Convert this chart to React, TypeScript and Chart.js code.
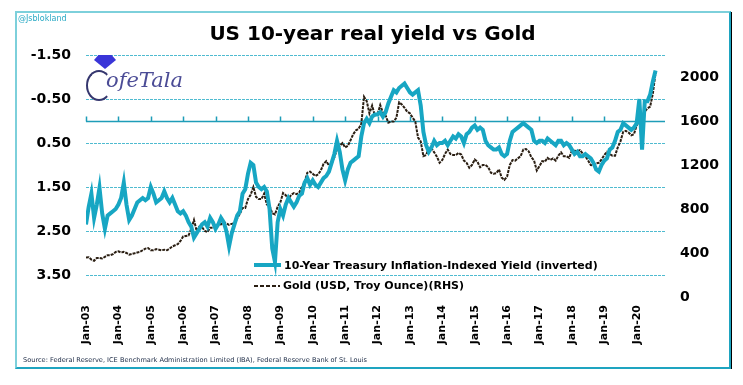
import React, { useEffect, useRef } from 'react';
import { Chart, registerables } from 'chart.js';

Chart.register(...registerables);

// ---------- data ----------
const START_YEAR = 2003; // first monthly observation: Jan 2003
const xTickYears = [2003, 2004, 2005, 2006, 2007, 2008, 2009, 2010, 2011, 2012, 2013, 2014, 2015, 2016, 2017, 2018, 2019, 2020];
const xTickLabels = ['Jan-03', 'Jan-04', 'Jan-05', 'Jan-06', 'Jan-07', 'Jan-08', 'Jan-09', 'Jan-10', 'Jan-11', 'Jan-12', 'Jan-13', 'Jan-14', 'Jan-15', 'Jan-16', 'Jan-17', 'Jan-18', 'Jan-19', 'Jan-20'];
const leftTicks = [-1.5, -0.5, 0.5, 1.5, 2.5, 3.5];
const rightTicks = [0, 400, 800, 1200, 1600, 2000];

// 10-Year TIPS yield (%), monthly, Jan 2003 - Aug 2020 (plotted inverted)
const realYield = [
  2.35, 1.95, 1.65, 2.2, 1.9, 1.52, 2.1, 2.45, 2.15, 2.1, 2.05, 2.0,
  1.9, 1.75, 1.4, 1.9, 2.25, 2.15, 2.0, 1.85, 1.8, 1.75, 1.8, 1.75,
  1.5, 1.65, 1.85, 1.8, 1.75, 1.6, 1.75, 1.85, 1.75, 1.9, 2.05, 2.1,
  2.05, 2.15, 2.3, 2.4, 2.65, 2.55, 2.45, 2.35, 2.3, 2.4, 2.2, 2.3,
  2.45, 2.35, 2.2, 2.3, 2.5, 2.85, 2.55, 2.35, 2.15, 2.05, 1.65, 1.55,
  1.2, 0.95, 1.0, 1.4, 1.5, 1.55, 1.5, 1.6, 2.0, 2.9, 3.2, 2.3,
  2.0, 2.15, 1.9, 1.75, 1.85, 1.95, 1.85, 1.7, 1.65, 1.4, 1.3, 1.45,
  1.35, 1.45, 1.5, 1.4, 1.3, 1.25, 1.15, 0.95, 0.75, 0.45, 0.7, 1.1,
  1.35, 1.1, 0.95, 0.9, 0.85, 0.8, 0.35, 0.05, -0.05, 0.05, -0.1, -0.15,
  -0.15, -0.2, -0.1, -0.2, -0.4, -0.55, -0.7, -0.65, -0.75, -0.8, -0.85, -0.75,
  -0.65, -0.6, -0.65, -0.7, -0.35, 0.25, 0.55, 0.7, 0.6, 0.45, 0.55, 0.5,
  0.5, 0.45, 0.55, 0.45, 0.35, 0.4, 0.3, 0.35, 0.5, 0.3, 0.25, 0.15,
  0.1, 0.2, 0.15, 0.2, 0.45, 0.55, 0.6, 0.65, 0.65, 0.6, 0.75, 0.8,
  0.75, 0.45, 0.25, 0.2, 0.15, 0.1, 0.05, 0.1, 0.15, 0.2, 0.45, 0.5,
  0.45, 0.45, 0.5, 0.4, 0.45, 0.5, 0.55, 0.45, 0.45, 0.55, 0.5, 0.55,
  0.65, 0.75, 0.7, 0.8, 0.8, 0.75, 0.8, 0.85, 0.95, 1.1, 1.15, 1.0,
  0.9, 0.85, 0.65, 0.6, 0.45, 0.25, 0.2, 0.05, 0.1, 0.15, 0.2, 0.15,
  0.05, -0.5, 0.65, -0.45, -0.45, -0.6, -0.9, -1.15,
];

// Gold (USD / troy ounce), monthly, Jan 2003 - Aug 2020
const goldPrice = [
  360, 362, 340, 330, 355, 355, 350, 365, 380, 380, 390, 410,
  415, 405, 410, 400, 385, 392, 398, 405, 410, 425, 440, 445,
  425, 425, 435, 430, 425, 430, 425, 440, 460, 470, 480, 510,
  550, 555, 560, 620, 700, 600, 640, 635, 600, 590, 630, 630,
  635, 665, 660, 680, 670, 655, 665, 670, 715, 755, 810, 810,
  890, 930, 1000, 910, 890, 890, 940, 840, 830, 760, 750, 820,
  860, 945, 925, 890, 930, 945, 935, 950, 1000, 1045, 1130, 1140,
  1120, 1100, 1115, 1150, 1210, 1235, 1195, 1215, 1270, 1345, 1375, 1400,
  1360, 1375, 1425, 1480, 1515, 1530, 1575, 1820, 1780, 1670, 1740, 1650,
  1660, 1745, 1675, 1650, 1585, 1595, 1595, 1630, 1770, 1750, 1720, 1685,
  1670, 1630, 1595, 1450, 1415, 1280, 1290, 1350, 1350, 1315, 1275, 1220,
  1245, 1300, 1340, 1300, 1290, 1290, 1310, 1295, 1240, 1220, 1175, 1200,
  1250, 1230, 1180, 1200, 1200, 1180, 1130, 1120, 1125, 1160, 1085, 1065,
  1095, 1200, 1245, 1240, 1260, 1280, 1340, 1345, 1325, 1270, 1240, 1150,
  1190, 1235, 1230, 1265, 1245, 1260, 1240, 1285, 1315, 1280, 1280, 1265,
  1330, 1330, 1325, 1335, 1305, 1280, 1240, 1200, 1195, 1215, 1220, 1250,
  1290, 1320, 1300, 1285, 1285, 1360, 1415, 1500, 1510, 1495, 1470, 1480,
  1560, 1600, 1590, 1685, 1715, 1730, 1850, 2040,
];

const TEAL = '#17A6C3';
const GOLD_LINE = '#2A1E12';
const GRID = '#4FBBD0';
const FONT = '"DejaVu Sans", Verdana, sans-serif';

const toPoints = (arr: number[]) => arr.map((v, i) => ({ x: START_YEAR + i / 12, y: v }));

// light horizontal gridlines at the left-axis ticks + solid zero axis with year ticks
const gridAndAxisPlugin = {
  id: 'gridAndAxis',
  beforeDatasetsDraw(chart: any) {
    const { ctx, chartArea, scales } = chart;
    ctx.save();
    ctx.strokeStyle = GRID;
    ctx.lineWidth = 1;
    ctx.setLineDash([3, 1]);
    ctx.beginPath();
    for (const v of leftTicks) {
      const gy = Math.round(scales.y.getPixelForValue(v)) + 0.5;
      ctx.moveTo(chartArea.left, gy);
      ctx.lineTo(chartArea.right, gy);
    }
    ctx.stroke();
    ctx.setLineDash([]);
    const y = Math.round(scales.y.getPixelForValue(0)) + 0.5;
    ctx.strokeStyle = '#1E9DB8';
    ctx.lineWidth = 1.5;
    ctx.beginPath();
    ctx.moveTo(chartArea.left, y);
    ctx.lineTo(chartArea.right, y);
    for (const t of xTickYears) {
      const x = Math.round(scales.x.getPixelForValue(t)) + 0.5;
      ctx.moveTo(x, y);
      ctx.lineTo(x, y - 5);
    }
    ctx.stroke();
    ctx.restore();
  },
};

function RealYieldGoldChart() {
  const ref = useRef<HTMLCanvasElement>(null);
  useEffect(() => {
    if (!ref.current) return;
    const chart = new Chart(ref.current, {
      type: 'line',
      data: {
        datasets: [
          {
            label: '10-Year Treasury Inflation-Indexed Yield (inverted)',
            data: toPoints(realYield),
            yAxisID: 'y',
            borderColor: TEAL,
            borderWidth: 4,
            pointRadius: 0,
            tension: 0,
          },
          {
            label: 'Gold (USD, Troy Ounce)(RHS)',
            data: toPoints(goldPrice),
            yAxisID: 'y2',
            borderColor: GOLD_LINE,
            borderWidth: 2,
            borderDash: [3, 1],
            pointRadius: 0,
            tension: 0,
          },
        ],
      },
      options: {
        responsive: false,
        animation: false,
        layout: { padding: { left: 16, right: 0, top: 33, bottom: 0 } },
        plugins: { legend: { display: false }, tooltip: { enabled: false }, title: { display: false } },
        scales: {
          x: {
            type: 'linear',
            min: 2003,
            max: 2020.875,
            position: 'bottom',
            grid: { display: false, drawTicks: false },
            border: { display: false },
            afterBuildTicks: (s: any) => { s.ticks = xTickYears.map((v) => ({ value: v })); },
            afterFit: (s: any) => { s.height = 88; },
            ticks: {
              autoSkip: false,
              minRotation: 90,
              maxRotation: 90,
              padding: 8,
              color: '#000',
              font: { family: FONT, size: 11, weight: 'bold' },
              callback: (v: any) => xTickLabels[xTickYears.indexOf(Math.round(Number(v)))] ?? '',
            },
          },
          y: {
            type: 'linear',
            position: 'left',
            min: -2,
            max: 4,
            reverse: true,
            grid: { display: false, drawTicks: false },
            border: { display: false },
            afterBuildTicks: (s: any) => { s.ticks = leftTicks.map((v) => ({ value: v })); },
            afterFit: (s: any) => { s.width = 70; },
            ticks: {
              padding: 15,
              color: '#000',
              font: { family: FONT, size: 14, weight: 'bold' },
              callback: (v: any) => Number(v).toFixed(2),
            },
          },
          y2: {
            type: 'linear',
            position: 'right',
            min: 0,
            max: 2400,
            grid: { display: false, drawTicks: false },
            border: { display: false },
            afterBuildTicks: (s: any) => { s.ticks = rightTicks.map((v) => ({ value: v })); },
            afterFit: (s: any) => { s.width = 78; },
            ticks: {
              padding: 15,
              color: '#000',
              font: { family: FONT, size: 14, weight: 'bold' },
              callback: (v: any) => String(v),
            },
          },
        },
      },
      plugins: [gridAndAxisPlugin],
    } as any);
    return () => chart.destroy();
  }, []);
  return <canvas ref={ref} width={743} height={385} style={{ position: 'absolute', left: 0, top: 0 }} />;
}

const abs = (o: React.CSSProperties): React.CSSProperties => ({ position: 'absolute', ...o });

export default function App() {
  return (
    <div style={abs({ left: 0, top: 0, width: 743, height: 385, background: '#fff', overflow: 'hidden', fontFamily: FONT })}>
      <RealYieldGoldChart />
      {/* frame */}
      <div style={abs({ left: 15, top: 11, width: 716, height: 358, boxSizing: 'border-box', borderTop: '2px solid #7DD0DB', borderLeft: '2px solid #7DD0DB', borderRight: '2px solid #1EA4C0', borderBottom: '2px solid #1EA4C0' })} />
      <div style={abs({ left: 731, top: 12, width: 1, height: 357, background: '#000' })} />
      {/* handle */}
      <div style={abs({ left: 18, top: 13, fontSize: 8, color: '#29A9C4', lineHeight: '12px', whiteSpace: 'nowrap' })}>@Jsblokland</div>
      {/* title */}
      <div style={abs({ left: 0, top: 20, width: 745, textAlign: 'center', fontSize: 20, fontWeight: 'bold', color: '#000', lineHeight: '26px', whiteSpace: 'nowrap' })}>US 10-year real yield vs Gold</div>
      {/* logo */}
      <div style={abs({ left: 94, top: 55, width: 22, height: 14, background: '#3A35D8', clipPath: 'polygon(20% 0, 80% 0, 100% 35%, 50% 100%, 0 35%)' })} />
      <div style={abs({ left: 86, top: 70, width: 26, height: 31, boxSizing: 'border-box', border: '2.5px solid #35366E', borderRightColor: 'transparent', borderRadius: '50%' })} />
      <div style={abs({ left: 106, top: 66, fontSize: 21, fontStyle: 'italic', fontFamily: '"DejaVu Serif", serif', color: '#4B4C96', lineHeight: '28px', whiteSpace: 'nowrap' })}>ofeTala</div>
      {/* legend */}
      <div style={abs({ left: 254, top: 263, width: 27, height: 4, background: TEAL })} />
      <div style={abs({ left: 284, top: 258, fontSize: 11, fontWeight: 'bold', color: '#000', lineHeight: '16px', whiteSpace: 'nowrap' })}>10-Year Treasury Inflation-Indexed Yield (inverted)</div>
      <div style={abs({ left: 254, top: 285, width: 26, height: 2, background: `repeating-linear-gradient(90deg, ${GOLD_LINE} 0 4px, transparent 4px 6px)` })} />
      <div style={abs({ left: 283, top: 278, fontSize: 11, fontWeight: 'bold', color: '#000', lineHeight: '16px', whiteSpace: 'nowrap' })}>Gold (USD, Troy Ounce)(RHS)</div>
      {/* source */}
      <div style={abs({ left: 23, top: 355, fontSize: 6.6, color: '#22304A', lineHeight: '10px', whiteSpace: 'nowrap' })}>Source: Federal Reserve, ICE Benchmark Administration Limited (IBA), Federal Reserve Bank of St. Louis</div>
    </div>
  );
}
